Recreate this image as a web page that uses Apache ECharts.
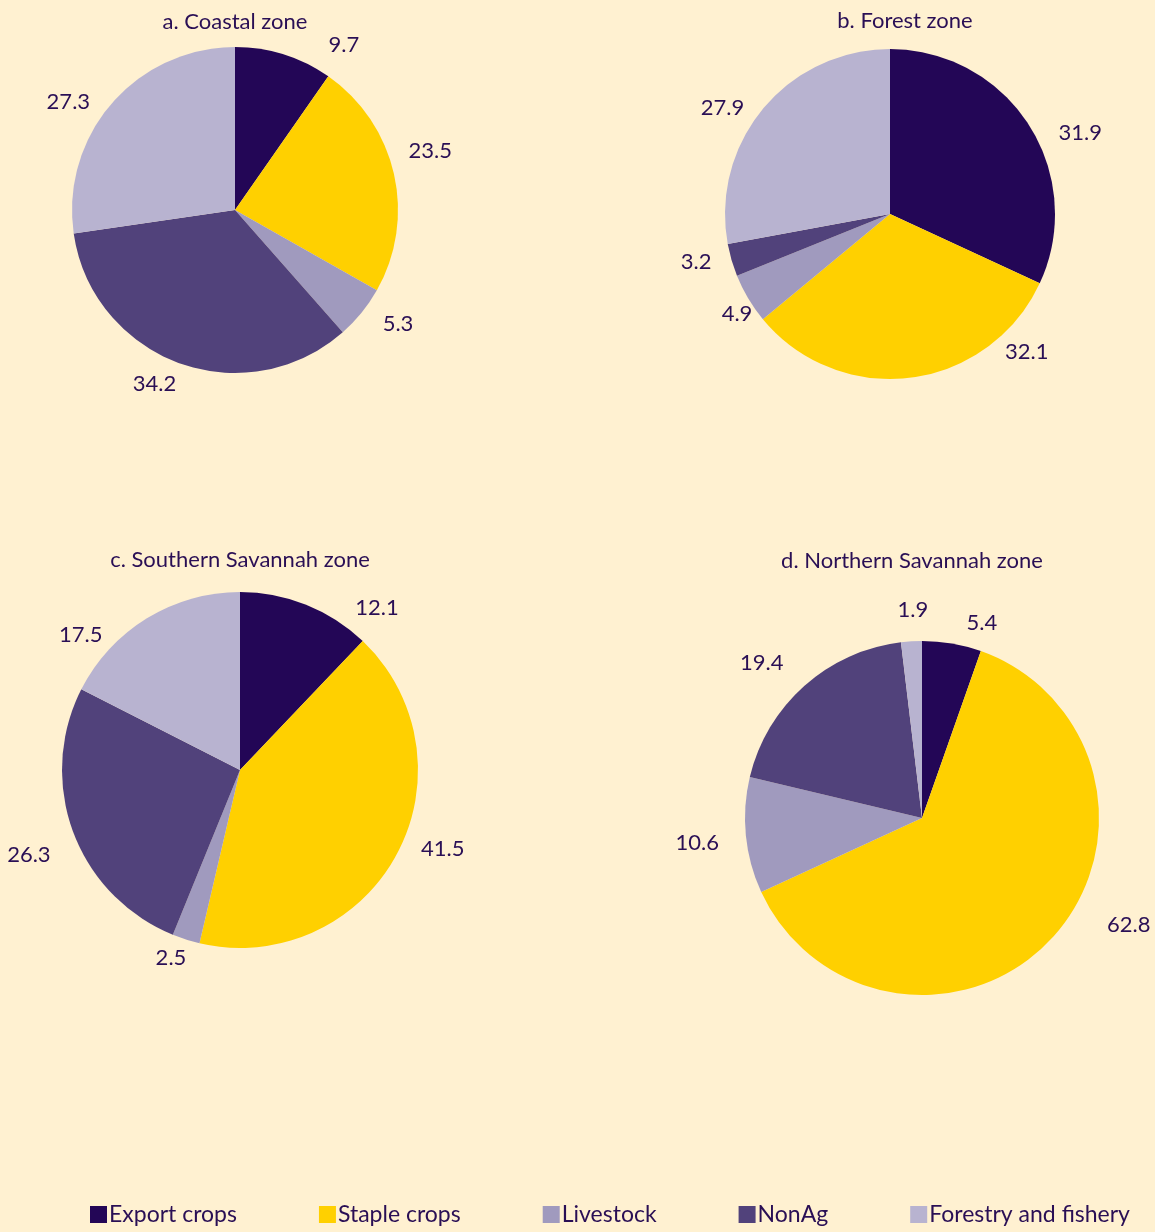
<!DOCTYPE html>
<html>
<head>
<meta charset="utf-8">
<script src="https://cdn.jsdelivr.net/npm/echarts@6/dist/echarts.min.js"></script>
<style>
html,body{margin:0;padding:0;background:#FFF1D1;}
#c{width:1155px;height:1232px;}
</style>
</head>
<body>
<div id="c"></div>
<script>
const categories = ["Export crops", "Staple crops", "Livestock", "NonAg", "Forestry and fishery"];
const zoneTitles = ["a. Coastal zone", "b. Forest zone", "c. Southern Savannah zone", "d. Northern Savannah zone"];
const coastal = [9.7, 23.5, 5.3, 34.2, 27.3];
const forest = [31.9, 32.1, 4.9, 3.2, 27.9];
const southernSavannah = [12.1, 41.5, 2.5, 26.3, 17.5];
const northernSavannah = [5.4, 62.8, 10.6, 19.4, 1.9];

const colors = ["#230656", "#FFD000", "#A09ABE", "#51427B", "#B8B3D0"];
const textColor = "#2A0F55";
const fontFamily = "Lato, 'Open Sans', sans-serif";

const zoneData = [coastal, forest, southernSavannah, northernSavannah];
const centers = [[235, 210], [890, 214], [240, 770], [922, 818]];
const radii = [163, 165, 178, 177];
const titlePos = [[230, 6], [900, 5], [235, 544], [907, 545]];
// label nudges (styling only), per zone, per slice: [dx, dy]
const labelNudges = [
  [[32, 11], [-13, -18], [-2, -3], [11, 0], [1, 13]],
  [[5, 20], [85, -48], [29, 4], [7, -4], [4, 14]],
  [[35, 24], [-1, -16], [13, -3], [4, 15], [-27, 35]],
  [[5, 1], [32, -27], [1, 5], [0, -7], [24, -9]]
];

const chart = echarts.init(document.getElementById('c'), null, {renderer: 'canvas'});

const series = zoneData.map((vals, i) => ({
  type: 'pie',
  name: zoneTitles[i],
  center: centers[i],
  radius: radii[i],
  startAngle: 90,
  clockwise: true,
  avoidLabelOverlap: false,
  silent: true,
  animation: false,
  label: {
    show: true,
    position: 'outside',
    formatter: p => p.value.toFixed(1),
    color: textColor,
    fontSize: 22,
    fontFamily: fontFamily,
    distanceToLabelLine: 6
  },
  labelLine: {show: false, length: 22, length2: 0},
  labelLayout: params => ({dx: labelNudges[i][params.dataIndex][0], dy: labelNudges[i][params.dataIndex][1]}),
  itemStyle: {borderWidth: 0},
  data: vals.map((v, j) => ({name: categories[j], value: v}))
}));

chart.setOption({
  backgroundColor: "#FFF1D1",
  color: colors,
  animation: false,
  title: zoneTitles.map((t, i) => ({
    text: t,
    left: titlePos[i][0],
    top: titlePos[i][1],
    textAlign: 'center',
    textStyle: {color: textColor, fontSize: 22, fontWeight: 'normal', fontFamily: fontFamily}
  })),
  legend: {
    bottom: 1,
    left: 85,
    itemGap: 82,
    itemWidth: 17,
    itemHeight: 17,
    icon: 'rect',
    selectedMode: false,
    textStyle: {color: textColor, fontSize: 23, fontFamily: fontFamily, padding: [0, 0, 0, -3]},
    data: categories
  },
  series: series
});
</script>
</body>
</html>
